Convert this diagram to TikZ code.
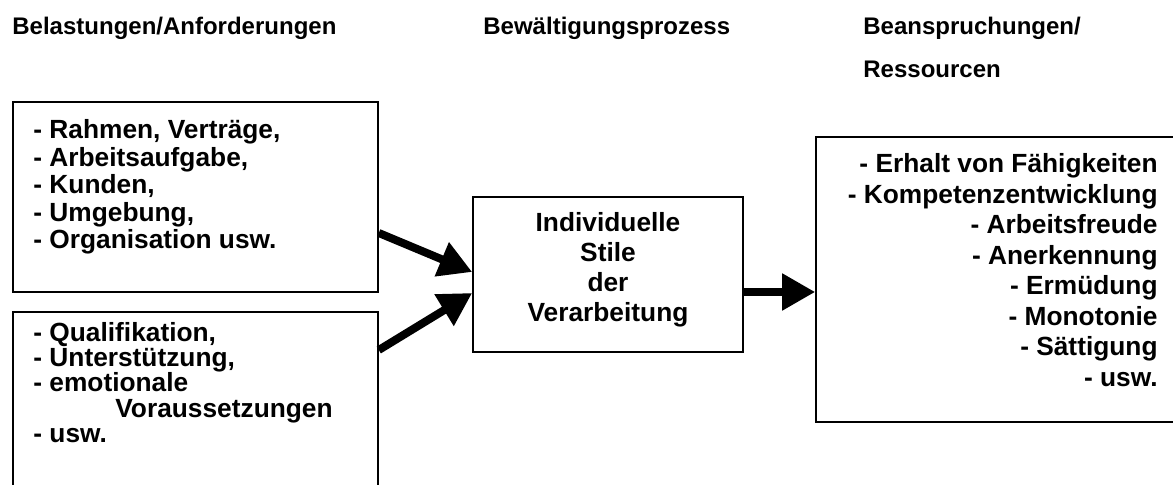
\documentclass[tikz,border=0pt]{standalone}
\usepackage{fontspec}
\setmainfont{Liberation Sans}
\usetikzlibrary{arrows.meta}
\tikzset{
    kasten/.style={draw, line width=0.8pt, inner sep=0pt},
    liste/.style={inner sep=0pt, font=\bfseries\fontsize{13.15pt}{13.7pt}\selectfont},
    kopf/.style={inner sep=0pt, anchor=base west, align=left, font=\bfseries\fontsize{12pt}{21.5pt}\selectfont},
    pfeil/.style={line width=4pt, -{Triangle[length=16.5pt,width=17.5pt]}}
}

\begin{document}
\begin{tikzpicture}[x=0.5pt,y=-0.5pt]
                        \useasboundingbox (0,0) rectangle (1173,485);
                        \clip (0,0) rectangle (1173,485);

                        \node[kopf] (kBel) at (12,35) {Belastungen/Anforderungen};
                        \node[kopf] (kBew) at (483,35) {Bewältigungsprozess};
                        \node[kopf] (kBea) at (863,78) {Beanspruchungen/\\Ressourcen};

                        \node[kasten, minimum width=182.5pt, minimum height=95pt] (bel) at (195.5,197) {};
                        \node[liste, anchor=west, align=left] (belText) at (33,187)
                            {- Rahmen, Verträge,\\- Arbeitsaufgabe,\\- Kunden,\\- Umgebung,\\- Organisation usw.};

                        \node[kasten, minimum width=182.5pt, minimum height=104pt] (vor) at (195.5,416) {};
                        \node[liste, anchor=west, align=left, font=\bfseries\fontsize{13.15pt}{12.7pt}\selectfont] (vorText) at (33,382.5)
                            {- Qualifikation,\\- Unterstützung,\\- emotionale\\\hspace*{41pt}Voraussetzungen\\- usw.};

                        \node[kasten, minimum width=135pt, minimum height=77.5pt] (proc) at (608,274.5) {};
                        \node[liste, align=center, font=\bfseries\fontsize{13.15pt}{15pt}\selectfont] (procText) at (608,270)
                            {Individuelle\\Stile\\der\\Verarbeitung};

                        \node[kasten, minimum width=187pt, minimum height=142.5pt] (bea) at (1003,279.5) {};
                        \node[liste, anchor=east, align=right, font=\bfseries\fontsize{13.15pt}{15.25pt}\selectfont] (beaText) at (1158,270)
                            {- Erhalt von Fähigkeiten\\- Kompetenzentwicklung\\- Arbeitsfreude\\- Anerkennung\\- Ermüdung\\- Monotonie\\- Sättigung\\- usw.};

                        \draw[pfeil] ([yshift=-18pt]bel.east) -- ([yshift=1.25pt]proc.west);
                        \draw[pfeil] ([yshift=33pt]vor.east) -- ([yshift=-9.25pt]proc.west);
                        \draw[pfeil] ([yshift=-8.75pt]proc.east) -- ([yshift=-6.25pt]bea.west);
\end{tikzpicture}
\end{document}
